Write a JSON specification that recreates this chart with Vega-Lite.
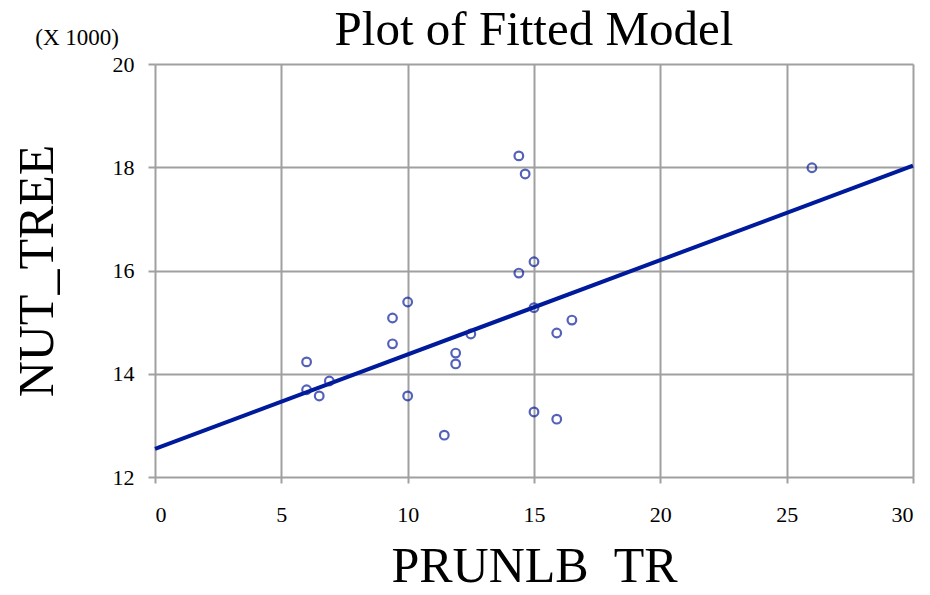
{
  "$schema": "https://vega.github.io/schema/vega-lite/v6.json",
  "autosize": "none",
  "width": 758,
  "height": 413,
  "padding": {"left": 155, "top": 64, "right": 17, "bottom": 118},
  "background": "white",
  "title": {"text": "Plot of Fitted Model", "font": "Liberation Serif", "fontSize": 49, "fontWeight": "normal", "color": "black", "anchor": "middle", "baseline": "alphabetic", "frame": "group", "offset": 0, "dy": 67},
  "config": {"view": {"stroke": null}},
  "datasets": {
    "pts": [
      {"x": 6.0, "y": 14230}, {"x": 6.0, "y": 13690}, {"x": 6.5, "y": 13570}, {"x": 6.9, "y": 13860},
      {"x": 9.4, "y": 15080}, {"x": 9.4, "y": 14580}, {"x": 10.0, "y": 15390}, {"x": 10.0, "y": 13570},
      {"x": 11.45, "y": 12810}, {"x": 11.9, "y": 14400}, {"x": 11.9, "y": 14190}, {"x": 12.5, "y": 14770},
      {"x": 14.4, "y": 18220}, {"x": 14.65, "y": 17870}, {"x": 14.4, "y": 15950}, {"x": 15.0, "y": 16170},
      {"x": 15.0, "y": 15280}, {"x": 15.0, "y": 13260}, {"x": 15.9, "y": 14790}, {"x": 16.5, "y": 15040},
      {"x": 15.9, "y": 13120}, {"x": 26.0, "y": 17990}
    ],
    "fit": [{"x": 0, "y": 12545}, {"x": 30, "y": 18030}],
    "note": [{"x": 0, "y": 20000, "t": "(X 1000)"}]
  },
  "layer": [
    {
      "data": {"name": "fit"},
      "mark": {"type": "line", "color": "#001a9c", "strokeWidth": 4},
      "encoding": {
        "x": {"field": "x", "type": "quantitative", "scale": {"domain": [0, 30], "nice": false},
          "axis": {"values": [0, 5, 10, 15, 20, 25, 30], "grid": true, "gridColor": "#a0a0a0", "gridWidth": 2, "domain": false,
            "tickColor": "#a0a0a0", "tickWidth": 2, "tickSize": 6, "labelFont": "Liberation Serif", "labelFontSize": 22, "labelColor": "black", "labelPadding": 21,
            "title": "PRUNLB\u00a0\u00a0TR", "titleFont": "Liberation Serif", "titleFontSize": 50, "titleFontWeight": "normal", "titleColor": "black", "titlePadding": 16}},
        "y": {"field": "y", "type": "quantitative", "scale": {"domain": [12000, 20000], "nice": false, "zero": false},
          "axis": {"values": [12000, 14000, 16000, 18000, 20000], "labelExpr": "datum.value/1000", "grid": true, "gridColor": "#a0a0a0", "gridWidth": 2, "domain": false,
            "tickColor": "#a0a0a0", "tickWidth": 2, "tickSize": 7, "labelFont": "Liberation Serif", "labelFontSize": 22, "labelColor": "black", "labelPadding": 14,
            "title": "NUT_TREE", "titleFont": "Liberation Serif", "titleFontSize": 50, "titleFontWeight": "normal", "titleColor": "black", "titlePadding": 50}}
      }
    },
    {
      "data": {"name": "pts"},
      "mark": {"type": "point", "shape": "circle", "filled": false, "color": "#0d1f9e", "strokeWidth": 2.2, "size": 75},
      "encoding": {
        "x": {"field": "x", "type": "quantitative"},
        "y": {"field": "y", "type": "quantitative"}
      }
    },
    {
      "data": {"name": "note"},
      "mark": {"type": "text", "font": "Liberation Serif", "fontSize": 23, "color": "black", "align": "right", "baseline": "bottom", "dx": -36, "dy": -14},
      "encoding": {
        "x": {"field": "x", "type": "quantitative"},
        "y": {"field": "y", "type": "quantitative"},
        "text": {"field": "t"}
      }
    }
  ]
}
